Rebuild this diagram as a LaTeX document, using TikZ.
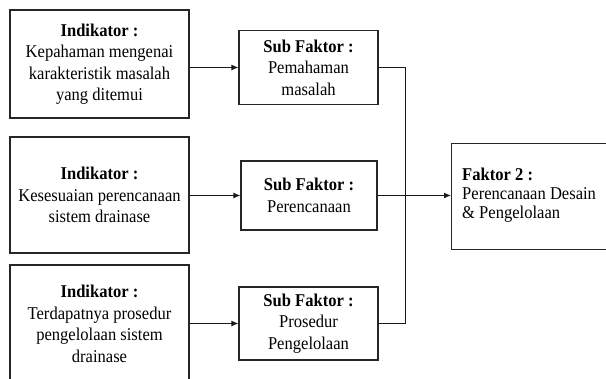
\documentclass[tikz,border=0pt]{standalone}
\usepackage{fontspec}
\setmainfont[FakeStretch=0.92]{Liberation Serif}
\usetikzlibrary{arrows.meta}
\begin{document}
\begin{tikzpicture}[x=1pt,y=-1pt,
  box/.style={draw=black!85,line width=1.2pt,fill=white,align=center,inner sep=2pt,
    font=\fontsize{18}{21.5}\selectfont},
  conn/.style={draw=black!90,line width=1.1pt},
  arr/.style={conn,-{Latex[length=7pt,width=6pt]}}]
\useasboundingbox[fill=white] (0,0) rectangle (606,379);
\node[box,minimum width=179pt,minimum height=108pt] (i1) at (99.5,64)
  {\textbf{Indikator :}\\Kepahaman mengenai\\karakteristik masalah\\yang ditemui};
\node[box,minimum width=179pt,minimum height=116pt] (i2) at (99.5,195)
  {\textbf{Indikator :}\\Kesesuaian perencanaan\\sistem drainase};
\node[box,minimum width=179pt,minimum height=118pt] (i3) at (99.5,324)
  {\textbf{Indikator :}\\Terdapatnya prosedur\\pengelolaan sistem\\drainase};
\node[box,minimum width=139pt,minimum height=74pt] (s1) at (308.5,67.5)
  {\textbf{Sub Faktor :}\\Pemahaman\\masalah};
\node[box,minimum width=136pt,minimum height=69pt] (s2) at (309,195.5)
  {\textbf{Sub Faktor :}\\Perencanaan};
\node[box,minimum width=139pt,minimum height=73pt] (s3) at (308.5,323.5)
  {\textbf{Sub Faktor :}\\Prosedur\\Pengelolaan};
\node[box,minimum width=180pt,minimum height=106pt,anchor=north west] (f) at (451,143) {};
\node[anchor=north west,align=left,inner sep=0pt,font=\fontsize{18}{19}\selectfont] (ft) at (462,168)
  {\textbf{Faktor 2 :}\\Perencanaan Desain\\\& Pengelolaan};
\coordinate (t1) at (405.5,67.5);
\coordinate (t3) at (405.5,323.5);
\draw[arr] (i1.east |- s1.west) -- (s1.west);
\draw[arr] (i2.east |- s2.west) -- (s2.west);
\draw[arr] (i3.east |- s3.west) -- (s3.west);
\draw[conn] (s1.east) -- (t1) -- (t3) -- (s3.east);
\draw[arr] (s2.east) -- (s2.east -| f.west);
\end{tikzpicture}
\end{document}
